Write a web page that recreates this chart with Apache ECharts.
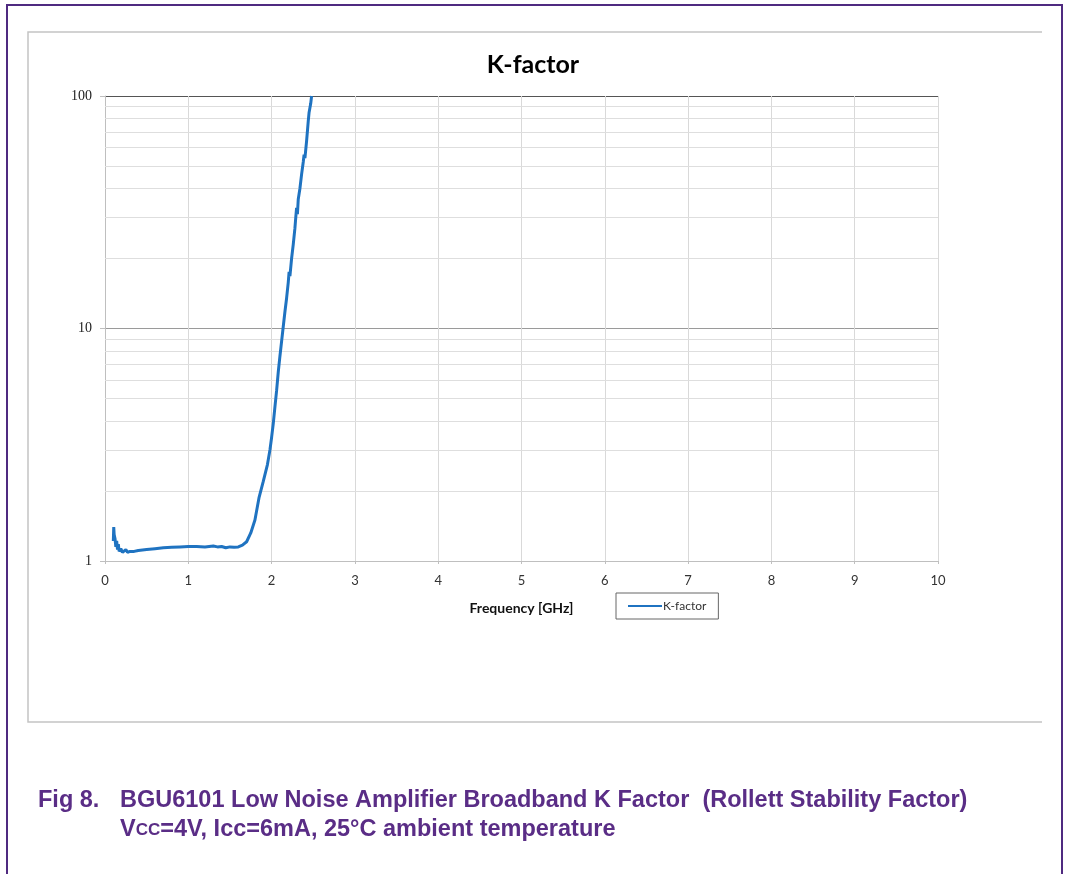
<!DOCTYPE html>
<html><head><meta charset="utf-8">
<script src="https://cdn.jsdelivr.net/npm/echarts@6/dist/echarts.min.js"></script>
<style>html,body{margin:0;padding:0;background:#fff}#c{width:1068px;height:874px}</style>
</head><body><div id="c"></div>
<script>
const freqGHz = [0.10,0.105,0.11,0.12,0.13,0.14,0.15,0.16,0.17,0.19,0.21,0.23,0.25,0.27,0.30,0.35,0.40,0.50,0.60,0.70,0.80,0.90,1.00,1.10,1.20,1.30,1.35,1.40,1.45,1.50,1.55,1.60,1.65,1.70,1.75,1.80,1.85,1.90,1.95,1.98,2.00,2.02,2.04,2.06,2.08,2.10,2.12,2.14,2.16,2.18,2.20,2.21,2.22,2.24,2.26,2.28,2.29,2.30,2.31,2.32,2.34,2.36,2.38,2.39,2.40,2.42,2.44,2.45,2.47,2.48];
const kFactor = [1.22,1.40,1.30,1.25,1.15,1.22,1.12,1.18,1.10,1.13,1.09,1.10,1.12,1.09,1.10,1.10,1.11,1.12,1.13,1.14,1.145,1.15,1.155,1.155,1.15,1.16,1.15,1.155,1.14,1.15,1.145,1.15,1.17,1.21,1.32,1.50,1.88,2.2,2.6,3.0,3.4,3.9,4.6,5.4,6.5,7.6,8.8,10.2,11.8,13.5,15.8,17.5,16.8,20,23,27,30,33,31,36,40,46,52,56,54,64,78,85,93,100];
const xTicks = [0,1,2,3,4,5,6,7,8,9,10];
const yMinorGrid = [2,3,4,5,6,7,8,9,20,30,40,50,60,70,80,90];

const chart = echarts.init(document.getElementById('c'));
const purple = '#4f2a80';
const capFont = 'bold 23.5px "Liberation Sans", Arial';
const capColor = '#5a2d86';
chart.setOption({
  backgroundColor: '#fff',
  animation: false,
  title: {
    text: 'K-factor', left: 528, top: 47, textAlign: 'center',
    textStyle: {fontFamily: 'Lato', fontWeight: 'bold', fontSize: 25, color: '#000'}
  },
  grid: {left: 105, right: 130, top: 96, bottom: 313},
  legend: {
    data: [{name: 'K-factor', icon: 'rect'}],
    left: 616, top: 593, padding: [7, 12, 7, 12],
    borderColor: '#666', borderWidth: 1,
    itemWidth: 34, itemHeight: 2, itemGap: 0,
    textStyle: {fontFamily: 'Lato', fontSize: 12, color: '#333', padding: [0,0,0,-4]}
  },
  xAxis: {
    type: 'value', min: 0, max: 10, interval: 1,
    name: 'Frequency [GHz]', nameLocation: 'middle', nameGap: 40,
    nameTextStyle: {fontFamily: 'Lato', fontWeight: 'bold', fontSize: 14, color: '#111'},
    axisLine: {show: true, lineStyle: {color: '#bfbfbf'}},
    axisTick: {show: true, length: 3, lineStyle: {color: '#bfbfbf'}},
    axisLabel: {fontFamily: 'Lato', fontSize: 13, color: '#333', margin: 13,
      formatter: v => xTicks.includes(v) ? String(v) : ''},
    splitLine: {show: true, lineStyle: {color: '#d9d9d9', width: 1}}
  },
  yAxis: {
    type: 'log', logBase: 10, min: 1, max: 100,
    axisLine: {show: true, lineStyle: {color: '#bfbfbf'}},
    axisTick: {show: true, length: 5, lineStyle: {color: '#bfbfbf'}},
    axisLabel: {fontFamily: 'Liberation Serif', fontSize: 14, color: '#222', margin: 13},
    splitLine: {show: true, lineStyle: {color: ['#c8c8c8', '#9a9a9a', '#555555'], width: 1.2}}
  },
  graphic: [
    {type: 'polyline', shape: {points: [[7,874],[7,5],[1062,5],[1062,874]]}, style: {stroke: purple, lineWidth: 2, fill: null}},
    {type: 'polyline', shape: {points: [[1042,32],[28,32],[28,722],[1042,722]]}, style: {stroke: '#c4c4c4', lineWidth: 1.5, fill: null}},
    {type: 'text', left: 38, top: 789, style: {text: 'Fig 8.', font: capFont, fill: capColor}},
    {type: 'text', left: 120, top: 789, style: {text: 'BGU6101 Low Noise Amplifier Broadband K Factor  (Rollett Stability Factor)', font: capFont, fill: capColor}},
    {type: 'text', left: 120, top: 818, style: {
      text: '{a|V}{b|CC}{a|=4V, Icc=6mA, 25°C ambient temperature}',
      rich: {a: {font: capFont, fill: capColor}, b: {font: 'bold 17px "Liberation Sans", Arial', fill: capColor}}
    }}
  ],
  series: [
    {
      name: 'minor', type: 'line', data: [], z: 1, silent: true,
      markLine: {silent: true, symbol: 'none', label: {show: false},
        lineStyle: {color: '#dedede', width: 1, type: 'solid'},
        data: yMinorGrid.map(v => ({yAxis: v}))}
    },
    {
      name: 'K-factor', type: 'line', z: 5, showSymbol: false, symbol: 'none',
      data: freqGHz.map((f, i) => [f, kFactor[i]]),
      lineStyle: {color: '#1f73c1', width: 3},
      itemStyle: {color: '#1f73c1'}
    }
  ]
});
</script></body></html>
